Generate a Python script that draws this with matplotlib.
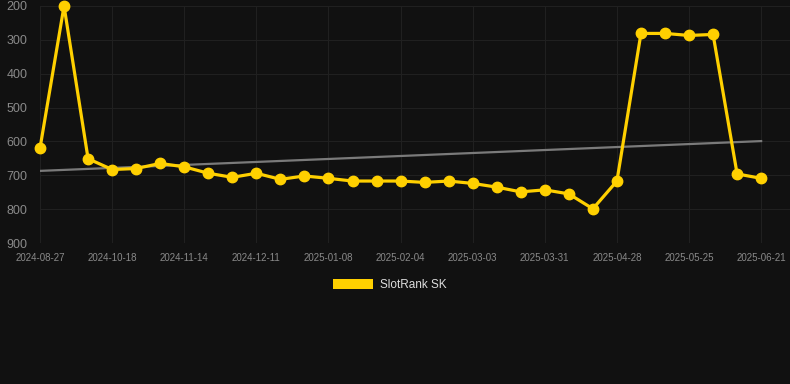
import matplotlib
matplotlib.use("Agg")
import matplotlib.pyplot as plt
from matplotlib.patches import Patch

plt.rcParams['font.family'] = ['Liberation Sans', 'DejaVu Sans']

# Data (rank, lower is better -> inverted axis)
tick_labels = ["2024-08-27", "2024-10-18", "2024-11-14", "2024-12-11", "2025-01-08",
               "2025-02-04", "2025-03-03", "2025-03-31", "2025-04-28", "2025-05-25",
               "2025-06-21"]
rank_values = [620, 200, 651, 683, 680, 665, 675, 694, 706, 694,
               712, 702, 709, 717, 717, 717, 721, 717, 724, 735,
               749, 743, 755, 799, 717, 281, 281, 287, 284, 696,
               709]
trend_values = [687, 599]
series_name = "SlotRank SK"

bg = "#111111"
fig = plt.figure(figsize=(7.9, 3.84), dpi=100, facecolor=bg)
ax = fig.add_axes([40/790, (384-243)/384, 750/790, 237/384], facecolor=bg)

x = list(range(len(rank_values)))
ax.plot([x[0], x[-1]], trend_values, color="#7a7a7a", lw=1.6, zorder=2)
ax.plot(x, rank_values, color="#FFD000", lw=2.3, marker="o", ms=7.5,
        markerfacecolor="#FFD000", markeredgecolor="#FFD000", zorder=3,
        clip_on=False)

ax.set_xlim(0, 31.2)
ax.set_ylim(900, 200)
ax.set_yticks([200, 300, 400, 500, 600, 700, 800, 900])
ax.set_xticks(list(range(0, len(rank_values), 3)))
ax.set_xticklabels(tick_labels)

ax.grid(True, color="#202020", lw=0.8)
ax.set_axisbelow(True)
for s in ax.spines.values():
    s.set_visible(False)
ax.tick_params(axis='y', length=0, pad=9, labelsize=9, labelcolor="#8a8a8a")
ax.tick_params(axis='x', length=0, pad=7, labelsize=7, labelcolor="#8a8a8a")

fig.legend(handles=[Patch(facecolor="#FFD000", edgecolor="none", label=series_name)],
           loc="center", bbox_to_anchor=(390/790, (384-285)/384), frameon=False,
           fontsize=8.5, labelcolor="#dddddd", handlelength=3.4, handleheight=0.9,
           handletextpad=0.6)

fig.savefig("out.png", dpi=100, facecolor=bg)
